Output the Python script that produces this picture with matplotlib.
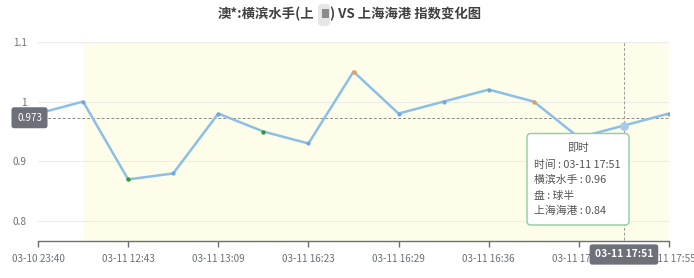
import matplotlib
matplotlib.use("Agg")
import matplotlib.pyplot as plt
from matplotlib.patches import FancyBboxPatch, Rectangle
from matplotlib.transforms import Affine2D

plt.rcParams['font.family'] = ['Noto Sans CJK SC', 'DejaVu Sans']

# ---- data ----
times = ["03-10 23:40", "03-11 10:15", "03-11 12:43", "03-11 12:58",
         "03-11 13:09", "03-11 15:40", "03-11 16:23", "03-11 16:26",
         "03-11 16:29", "03-11 16:33", "03-11 16:36", "03-11 17:02",
         "03-11 17:48", "03-11 17:51", "03-11 17:55"]
home_index = [0.98, 1.00, 0.87, 0.88, 0.98, 0.95, 0.93, 1.05,
              0.98, 1.00, 1.02, 1.00, 0.94, 0.96, 0.98]
green_points = [2, 5]
orange_points = [7, 11]
yticks = [0.8, 0.9, 1.0, 1.1]
ytick_labels = ["0.8", "0.9", "1", "1.1"]
cursor_idx = 13
cursor_value = 0.973
away_at_cursor = 0.84
handicap = "球半"
home_name = "横滨水手"
away_name = "上海海港"

W, H = 694, 278
fig = plt.figure(figsize=(W / 100, H / 100), dpi=100)
fig.patch.set_facecolor("white")

# axes box in pixel terms (left, top, right, bottom)
L, T, R, B = 38, 41.7, 669, 240.5
ax = fig.add_axes([L / W, 1 - B / H, (R - L) / W, (B - T) / H])
ax.set_facecolor("white")
n = len(times)
ax.set_xlim(0, n - 1)
ax.set_ylim(0.768, 1.1)

# shaded band
ax.axvspan(1, n - 1, ymin=0, ymax=1, color="#fdfde9", zorder=0, lw=0)

# grid
for v in yticks:
    ax.axhline(v, color="#ececec", lw=0.8, zorder=1)

for s in ["top", "right", "left"]:
    ax.spines[s].set_visible(False)
ax.spines["bottom"].set_color("#6e7079")
ax.spines["bottom"].set_linewidth(1)

ax.set_yticks(yticks)
ax.set_yticklabels(ytick_labels)
ax.tick_params(axis="y", length=0, pad=8, labelsize=7.2, labelcolor="#6e7079")

xt = list(range(0, n, 2))
ax.set_xticks(xt)
ax.set_xticklabels([times[i] for i in xt])
ax.tick_params(axis="x", length=4, width=1, color="#6e7079", pad=6,
               labelsize=7.2, labelcolor="#6e7079")
for lab in ax.get_xticklabels():
    lab.set_clip_on(False)

x = list(range(n))
ax.plot(x, home_index, color="#8cbfe8", lw=1.8, zorder=3, solid_joinstyle="round")
base_idx = [i for i in x if i not in green_points + orange_points and i != cursor_idx]
ax.scatter(base_idx, [home_index[i] for i in base_idx], s=9, color="#6fa8dc", zorder=4, lw=0)
ax.scatter(green_points, [home_index[i] for i in green_points], s=10, color="#2e9a3a", zorder=4, lw=0)
ax.scatter(orange_points, [home_index[i] for i in orange_points], s=10, color="#ef9a4e", zorder=4, lw=0)
ax.scatter([cursor_idx], [home_index[cursor_idx]], s=40, color="#a9c9ea", zorder=5, lw=0)

# cross pointer
ax.axhline(cursor_value, color="#8a8a8a", lw=0.7, ls=(0, (3, 2)), zorder=2)
ax.plot([cursor_idx, cursor_idx], [0.768, 1.1], color="#9a9a9a", lw=0.7,
        ls=(0, (3, 2)), zorder=2)

ax.annotate(f"{cursor_value:.3f}", xy=(0, cursor_value), xycoords="data",
            xytext=(4, 0), textcoords="offset pixels", ha="right", va="center",
            fontsize=7.2, color="white", zorder=10, annotation_clip=False,
            bbox=dict(boxstyle="round,pad=0.55,rounding_size=0.25",
                      fc="#6e7079", ec="none"))
ax.annotate(times[cursor_idx], xy=(cursor_idx, 0.768), xycoords="data",
            xytext=(0, -14), textcoords="offset pixels", ha="center", va="center",
            fontsize=7.4, color="white", fontweight="bold", zorder=10,
            annotation_clip=False,
            bbox=dict(boxstyle="round,pad=0.5,rounding_size=0.25",
                      fc="#6e7079", ec="none"))

# pixel transform (origin top-left)
pix = Affine2D().scale(1, -1).translate(0, H)

# title
tkw = dict(fontsize=9.6, fontweight="bold", color="#404040", va="center", transform=pix)
fig.text(314, 14, "澳*:横滨水手(上", ha="right", **tkw)
fig.add_artist(FancyBboxPatch((318, 4), 12, 22, boxstyle="round,pad=0,rounding_size=4",
                              transform=pix, fc="#e6e6e6", ec="none"))
fig.add_artist(Rectangle((321.5, 8.5), 7.5, 9, transform=pix, fc="#8c8c8c", ec="none"))
fig.text(330, 14, ") VS 上海海港 指数变化图", ha="left", **tkw)

# tooltip
fig.add_artist(FancyBboxPatch((527, 133.5), 102, 91.5,
                              boxstyle="round,pad=0,rounding_size=4", transform=pix,
                              fc="white", ec="#8ccfa2", lw=1, zorder=20))
tt = dict(fontsize=7.8, color="#555555", va="center", transform=pix, zorder=21)
fig.text(578, 148.5, "即时", ha="center", **tt)
fig.text(534, 164.5, f"时间 : {times[cursor_idx]}", ha="left", **tt)
fig.text(534, 180, f"{home_name} : {home_index[cursor_idx]:.2f}", ha="left", **tt)
fig.text(534, 195.5, f"盘 : {handicap}", ha="left", **tt)
fig.text(534, 211, f"{away_name} : {away_at_cursor:.2f}", ha="left", **tt)

fig.savefig("out.png", dpi=100, facecolor="white")
